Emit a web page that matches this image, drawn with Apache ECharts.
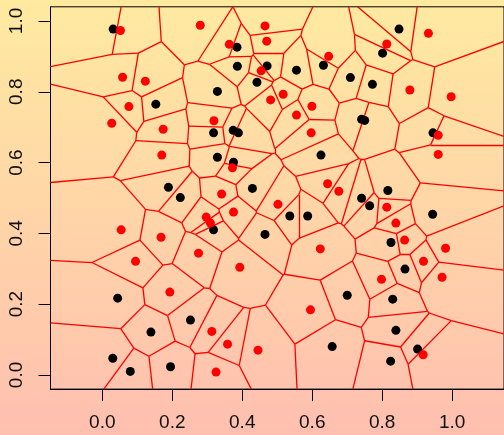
<!DOCTYPE html>
<html>
<head>
<meta charset="utf-8">
<script src="https://cdn.jsdelivr.net/npm/echarts@6/dist/echarts.min.js"></script>
<style>
  html, body { margin: 0; padding: 0; }
  #chart { width: 504px; height: 435px; }
</style>
</head>
<body>
<div id="chart"></div>
<script>
// points, [x, y]
const blackX = [0.031, 0.153, 0.385, 0.386, 0.471, 0.442, 0.555, 0.632, 0.709, 0.329,
  0.318, 0.374, 0.389, 0.848, 0.801, 0.772, 0.741, 0.750, 0.945, 0.189,
  0.223, 0.329, 0.375, 0.625, 0.429, 0.318, 0.536, 0.587, 0.465, 0.816,
  0.741, 0.764, 0.944, 0.825, 0.044, 0.252, 0.139, 0.030, 0.080, 0.195,
  0.700, 0.657, 0.865, 0.830, 0.839, 0.901, 0.824];
const blackY = [0.977, 0.765, 0.926, 0.872, 0.873, 0.827, 0.861, 0.875, 0.840, 0.801,
  0.684, 0.691, 0.684, 0.977, 0.909, 0.821, 0.722, 0.719, 0.684, 0.530,
  0.501, 0.615, 0.601, 0.621, 0.527, 0.410, 0.449, 0.449, 0.397, 0.521,
  0.499, 0.478, 0.454, 0.374, 0.217, 0.155, 0.121, 0.047, 0.010, 0.023,
  0.225, 0.080, 0.299, 0.214, 0.126, 0.073, 0.039];
const redX = [0.052, 0.280, 0.058, 0.123, 0.076, 0.027, 0.174, 0.465, 0.363, 0.470,
  0.454, 0.647, 0.517, 0.481, 0.599, 0.555, 0.319, 0.597, 0.932, 0.813,
  0.879, 0.997, 0.960, 0.170, 0.297, 0.054, 0.168, 0.275, 0.095, 0.372,
  0.644, 0.676, 0.341, 0.502, 0.375, 0.309, 0.623, 0.960, 0.813, 0.839,
  0.864, 0.981, 0.918, 0.193, 0.393, 0.595, 0.313, 0.358, 0.445, 0.325,
  0.798, 0.971, 0.917];
const redY = [0.973, 0.988, 0.841, 0.830, 0.758, 0.711, 0.694, 0.986, 0.934, 0.943,
  0.859, 0.900, 0.793, 0.777, 0.759, 0.734, 0.718, 0.684, 0.965, 0.935,
  0.805, 0.786, 0.677, 0.621, 0.446, 0.410, 0.389, 0.344, 0.321, 0.585,
  0.540, 0.519, 0.511, 0.482, 0.460, 0.429, 0.356, 0.623, 0.474, 0.429,
  0.381, 0.358, 0.321, 0.234, 0.304, 0.184, 0.123, 0.087, 0.070, 0.008,
  0.270, 0.276, 0.057];
const tickValues = [0, 0.2, 0.4, 0.6, 0.8, 1.0];

const xMin = -0.148, xMax = 1.148, yMin = -0.04, yMax = 1.04;

const black = blackX.map((x, i) => [x, blackY[i]]);
const red = redX.map((x, i) => [x, redY[i]]);
const sites = black.concat(red);

// voronoi cell of site i: clip the window by bisector half-planes, tag each edge with the neighbour
function cell(i) {
  const pi = sites[i];
  let poly = [
    { p: [xMin, yMin], t: -1 }, { p: [xMax, yMin], t: -1 },
    { p: [xMax, yMax], t: -1 }, { p: [xMin, yMax], t: -1 },
  ];
  sites.forEach((pj, j) => {
    if (j === i || poly.length === 0) return;
    const dx = pj[0] - pi[0], dy = pj[1] - pi[1];
    const mx = (pi[0] + pj[0]) / 2, my = (pi[1] + pj[1]) / 2;
    const f = (p) => (p[0] - mx) * dx + (p[1] - my) * dy;
    const out = [];
    for (let k = 0; k < poly.length; k++) {
      const cur = poly[k], nxt = poly[(k + 1) % poly.length];
      const dc = f(cur.p), dn = f(nxt.p);
      if (dc <= 0) {
        out.push({ p: cur.p, t: cur.t });
        if (dn > 0) {
          const s = dc / (dc - dn);
          out.push({ p: [cur.p[0] + s * (nxt.p[0] - cur.p[0]), cur.p[1] + s * (nxt.p[1] - cur.p[1])], t: j });
        }
      } else if (dn <= 0) {
        const s = dc / (dc - dn);
        out.push({ p: [cur.p[0] + s * (nxt.p[0] - cur.p[0]), cur.p[1] + s * (nxt.p[1] - cur.p[1])], t: cur.t });
      }
    }
    poly = out;
  });
  return poly;
}

const edges = [];
sites.forEach((s, i) => {
  const poly = cell(i);
  poly.forEach((v, k) => {
    if (v.t > i) {
      const w = poly[(k + 1) % poly.length];
      edges.push({ coords: [v.p, w.p] });
    }
  });
});

const chart = echarts.init(document.getElementById('chart'));
const font = 'Liberation Sans, Arial, sans-serif';
chart.setOption({
  animation: false,
  backgroundColor: new echarts.graphic.LinearGradient(0, 0, 0, 1, [
    { offset: 0, color: '#FFEAA0' },
    { offset: 1, color: '#FFBFB0' },
  ]),
  grid: {
    left: 50.5, top: 6.8, width: 458.4, height: 382.3,
    show: true, borderColor: '#000', borderWidth: 1, backgroundColor: 'transparent',
  },
  xAxis: {
    type: 'value', min: xMin, max: xMax,
    splitLine: { show: false },
    axisLine: { show: true, onZero: false, lineStyle: { color: '#000', width: 1 } },
    axisTick: { show: true, length: 12, customValues: tickValues, lineStyle: { color: '#000' } },
    axisLabel: {
      customValues: tickValues, margin: 24, fontSize: 19, color: '#111', fontFamily: font,
      formatter: (v) => v.toFixed(1),
    },
  },
  yAxis: {
    type: 'value', min: yMin, max: yMax,
    splitLine: { show: false },
    axisLine: { show: true, onZero: false, lineStyle: { color: '#000', width: 1 } },
    axisTick: { show: true, length: 12, customValues: tickValues, lineStyle: { color: '#000' } },
    axisLabel: {
      customValues: tickValues, margin: 24, fontSize: 19, color: '#111', fontFamily: font, rotate: 90,
      formatter: (v) => v.toFixed(1),
    },
  },
  series: [
    {
      type: 'lines', coordinateSystem: 'cartesian2d', silent: true, z: 1,
      lineStyle: { color: '#FF0000', width: 1.3, opacity: 1 },
      data: edges,
    },
    {
      type: 'scatter', symbol: 'circle', symbolSize: 9, z: 2,
      itemStyle: { color: '#000', opacity: 1 }, data: black,
    },
    {
      type: 'scatter', symbol: 'circle', symbolSize: 9, z: 3,
      itemStyle: { color: '#FF0000', opacity: 1 }, data: red,
    },
  ],
});
</script>
</body>
</html>
